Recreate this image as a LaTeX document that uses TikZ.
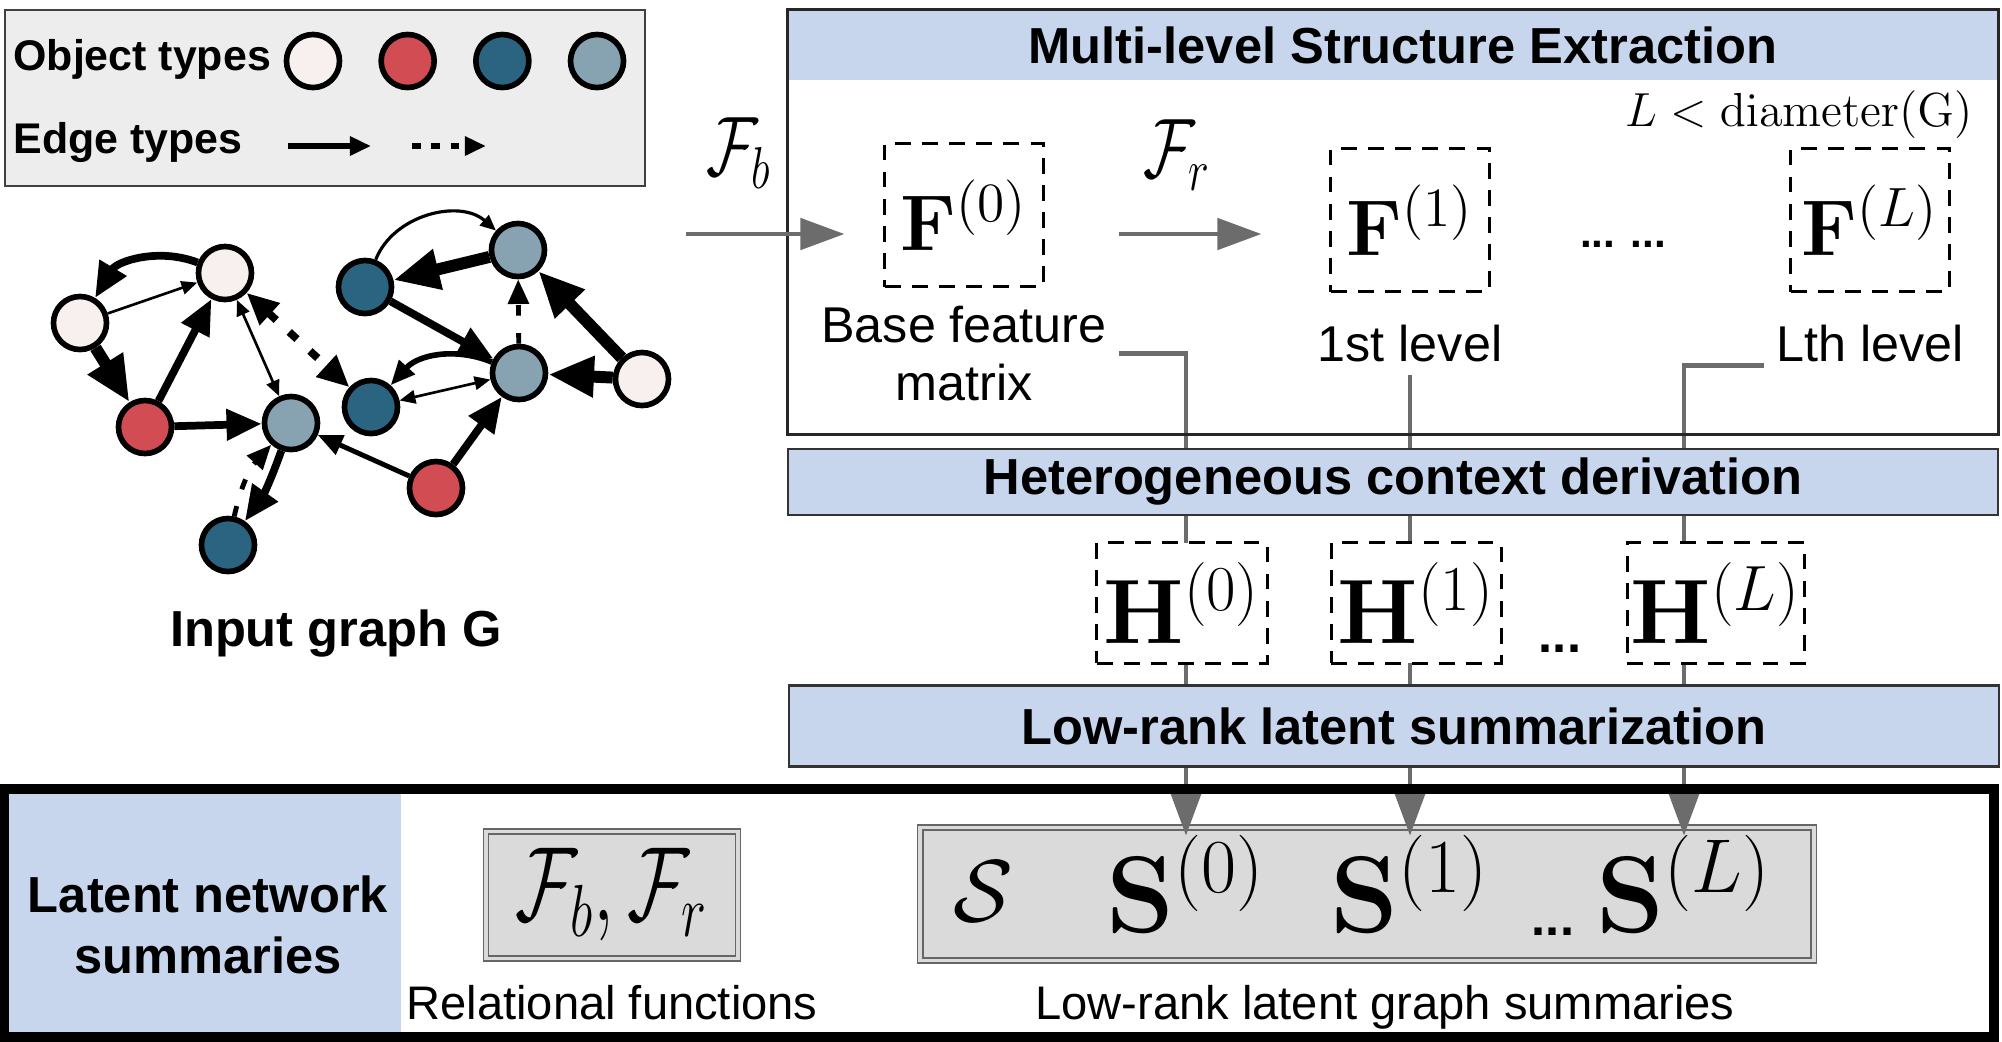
\RequirePackage{fix-cm}
\documentclass[tikz,border=0pt]{standalone}
\usepackage[no-math]{fontspec}
\usepackage{graphicx}
\usepackage{tikz}
\usetikzlibrary{arrows.meta, positioning, backgrounds, calc}
\newfontfamily\helvfont{Liberation Sans}
\definecolor{objwhite}{RGB}{248,240,238}
\definecolor{objred}{RGB}{210,76,84}
\definecolor{objteal}{RGB}{42,100,128}
\definecolor{objgray}{RGB}{135,162,177}
\definecolor{bandblue}{RGB}{199,214,236}
\definecolor{sumgray}{RGB}{218,218,218}
\definecolor{legendgray}{RGB}{237,237,237}
\definecolor{flowgray}{RGB}{108,108,108}

\begin{document}
\begin{tikzpicture}[
    x=0.01cm, y=0.01cm,   % <--- one unit is one pixel of the sketch
    vertex/.style={circle, draw=black, line width=1.6pt, minimum size=0.53cm, inner sep=0pt},
    thinlink/.style={line width=0.75pt, -{Triangle[length=4.5pt, width=3.8pt]}},
    midlink/.style={line width=1.4pt, -{Triangle[length=7pt, width=5.8pt]}},
    link/.style={line width=2.2pt, -{Triangle[length=10pt, width=8.5pt]}},
    heavylink/.style={line width=3.4pt, -{Triangle[length=13pt, width=11pt]}},
    weak/.style={dash pattern=on 3pt off 5pt},
    lgfont/.style={font=\helvfont\bfseries\fontsize{12.2}{14}\selectfont},
    headfont/.style={font=\helvfont\bfseries\fontsize{14.4}{17.4}\selectfont},
    lblfont/.style={font=\helvfont\fontsize{14.3}{16.5}\selectfont, align=center},
    capfont/.style={font=\helvfont\fontsize{13.4}{16}\selectfont},
    band/.style={rectangle, draw=black!80, line width=0.6pt, fill=bandblue,
                 minimum width=12.1cm, inner sep=0pt, headfont},
    featbox/.style={rectangle, draw=black, line width=0.85pt, dash pattern=on 4.5pt off 3.2pt,
                    fill=white, minimum width=1.58cm, minimum height=1.43cm, inner sep=1pt,
                    font=\fontsize{22.5}{25}\selectfont},
    ctxbox/.style={featbox, minimum width=1.7cm, minimum height=1.2cm,
                   font=\fontsize{26}{28}\selectfont},
    sumbox/.style={rectangle, draw=black!60, double=sumgray, double distance=1pt,
                   line width=0.45pt, fill=sumgray, inner sep=2pt},
    sfont/.style={font=\fontsize{31}{34}\selectfont, anchor=base},
    flow/.style={draw=flowgray, line width=1.4pt, -{Triangle[length=12.5pt, width=8.8pt]}}
]
\useasboundingbox (0,0) rectangle (2002,-1041);

% legend
\node[rectangle, draw=black!75, line width=0.6pt, fill=legendgray,
      minimum width=6.4cm, minimum height=1.76cm] (legend) at (325,-98) {};
\node[lgfont, anchor=base west] (objlbl) at (1,-70) {Object types};
\node[vertex, fill=objwhite] (lw) at (313,-61) {};
\node[vertex, fill=objred, right=0.36cm of lw] (lr) {};
\node[vertex, fill=objteal, right=0.36cm of lr] (lt) {};
\node[vertex, fill=objgray, right=0.36cm of lt] (lg) {};
\node[lgfont, anchor=base west] (edgelbl) at (1,-153) {Edge types};
\coordinate (solida) at (288,-146);
\coordinate (solidb) at (371,-146);
\coordinate (dasha) at (412,-146);
\coordinate (dashb) at (486,-146);
\draw[line width=1.5pt, -{Triangle[length=6pt, width=5.2pt]}] (solida) -- (solidb);
\draw[line width=1.5pt, dash pattern=on 2.5pt off 3pt, -{Triangle[length=6pt, width=5.2pt]}] (dasha) -- (dashb);

% input graph
\node[vertex, fill=objwhite] (w1) at (80,-323) {};
\node[vertex, fill=objwhite] (w2) at (225,-273) {};
\node[vertex, fill=objred] (r1) at (145,-427) {};
\node[vertex, fill=objgray] (g1) at (291,-423) {};
\node[vertex, fill=objteal] (t1) at (228,-545) {};
\node[vertex, fill=objteal] (t2) at (365,-287) {};
\node[vertex, fill=objgray] (g2) at (518,-250) {};
\node[vertex, fill=objteal] (t3) at (371,-407) {};
\node[vertex, fill=objgray] (g3) at (519,-373) {};
\node[vertex, fill=objwhite] (w3) at (642,-379) {};
\node[vertex, fill=objred] (r2) at (436,-488) {};

\draw[link, bend right=40] (w2) to (w1);
\draw[thinlink] (w1) -- (w2);
\draw[heavylink] (w1) -- (r1);
\draw[link] (r1) -- (w2);
\draw[link] (r1) -- (g1);
\draw[thinlink, {Triangle[length=4.5pt, width=3.8pt]}-{Triangle[length=4.5pt, width=3.8pt]}] (w2) -- (g1);
\draw[link, weak, {Triangle[length=9pt, width=8pt]}-{Triangle[length=9pt, width=8pt]}] (w2) -- (t3);
\draw[midlink, weak, bend left=15] (t1) to (g1);
\draw[link, bend left=8] (g1) to (t1);
\draw[midlink] (r2) -- (g1);
\draw[link] (r2) -- (g3);
\draw[link] (t2) -- (g3);
\draw[heavylink] (g2) -- (t2);
\draw[thinlink, line width=0.9pt, bend left=55] (t2) to (g2);
\draw[midlink, weak] (g3) -- (g2);
\draw[heavylink] (w3) -- (g2);
\draw[heavylink] (w3) -- (g3);
\draw[midlink, line width=1.6pt, bend right=35] (g3) to (t3);
\draw[thinlink, {Triangle[length=4.5pt, width=3.8pt]}-{Triangle[length=4.5pt, width=3.8pt]}] (t3) -- (g3);

\node[headfont] (inlbl) at (336,-633) {Input graph G};

% multi-level structure extraction
\node[band, draw=none, minimum height=0.7cm] (mlsehead) at (1393,-45) {};
\node[headfont] (mlsetitle) at (1403,-45) {Multi-level Structure Extraction};
\node[rectangle, draw=black!85, line width=0.85pt, minimum width=12.1cm, minimum height=4.24cm] (mlse) at (1393,-222) {};
\node[font=\fontsize{13.6}{16}\selectfont, anchor=east] (diam) at (1985,-115) {$L < \mathrm{diameter(G)}$};

\node[featbox] (f0) at (964,-215) {$\mathbf{F}^{(0)}$};
\node[featbox] (f1) at (1410,-220) {$\mathbf{F}^{(1)}$};
\node[featbox] (fL) at (1870,-220) {$\mathbf{F}^{(L)}$};
\node[headfont, font=\helvfont\bfseries\fontsize{12}{14}\selectfont, anchor=base] (fdots) at (1623,-247) {... ...};

\node[font=\fontsize{24}{26}\selectfont] (fb) at (739,-153) {\scalebox{0.75}[1]{$\mathcal{F}_b$}};
\node[font=\fontsize{24}{26}\selectfont] (fr) at (1177,-155) {\scalebox{0.75}[1]{$\mathcal{F}_r$}};
\coordinate (gin) at (686,-234);
\draw[flow, shorten >=0.39cm] (gin) -- (gin -| f0.west);
\draw[flow, shorten <=0.74cm, shorten >=0.68cm] (gin -| f0.east) -- (gin -| f1.west);

\node[lblfont, below=0.06cm of f0] (base) {Base feature\\matrix};
\node[lblfont, below=0.2cm of f1] (lvl1) {1st level};
\node[lblfont, below=0.2cm of fL] (lvlL) {Lth level};

% context and summarization
\node[band, minimum height=0.66cm] (hcd) at (1393,-482) {Heterogeneous context derivation};
\node[ctxbox] (h0) at (1182,-603) {$\mathbf{H}^{(0)}$};
\node[ctxbox, right=0.61cm of h0] (h1) {$\mathbf{H}^{(1)}$};
\node[ctxbox, right=1.23cm of h1] (hL) {$\mathbf{H}^{(L)}$};
\node[headfont, anchor=base] (hdots) at (1560,-652) {...};
\node[band, minimum height=0.81cm] (lrs) at (1394,-726) {Low-rank latent summarization};

% latent network summaries
\node[fill=bandblue, minimum width=3.92cm, minimum height=2.39cm, inner sep=0pt] (lnspanel) at (205,-913.5) {};
\node[headfont, align=center] (lnslbl) at (208,-925) {Latent network\\summaries};
\node[sumbox, minimum width=2.52cm, minimum height=1.27cm, font=\fontsize{30}{32}\selectfont] (funcs) at (612,-895)
    {\scalebox{0.72}[1]{$\mathcal{F}_b,\mathcal{F}_r$}};
\node[capfont, below=0.14cm of funcs] (funcslbl) {Relational functions};

\node[font=\fontsize{25}{27}\selectfont, anchor=base] (scal) at (983,-921) {$\mathcal{S}$};
\node[sfont] (s0) at (1186,-932) {$\mathbf{S}^{(0)}$};
\node[sfont] (s1) at (1410,-932) {$\mathbf{S}^{(1)}$};
\node[sfont] (sL) at (1684,-932) {$\mathbf{S}^{(L)}$};
\node[headfont, anchor=base] (sdots) at (1553,-935) {...};

\begin{scope}[on background layer]
\node[sumbox, minimum width=8.93cm, minimum height=1.33cm] (sums) at (1367,-894) {};
\coordinate (tip0) at ($(s0 |- sums.north)+(0,-9)$);
\coordinate (tip1) at ($(s1 |- sums.north)+(0,-9)$);
\coordinate (tipL) at ($(sL |- sums.north)+(0,-9)$);
\draw[flow] (base.east) -| (tip0);
\draw[flow] (lvl1.south) -- (tip1);
\draw[flow] ($(lvlL.west)+(0,-22)$) -| (tipL);
\end{scope}
\node[capfont, below=0.12cm of sums, xshift=0.18cm] (sumslbl) {Low-rank latent graph summaries};

\node[draw=black, line width=2.7pt, minimum width=19.89cm, minimum height=2.48cm] (frame) at (999,-913) {};

\end{tikzpicture}
\end{document}
